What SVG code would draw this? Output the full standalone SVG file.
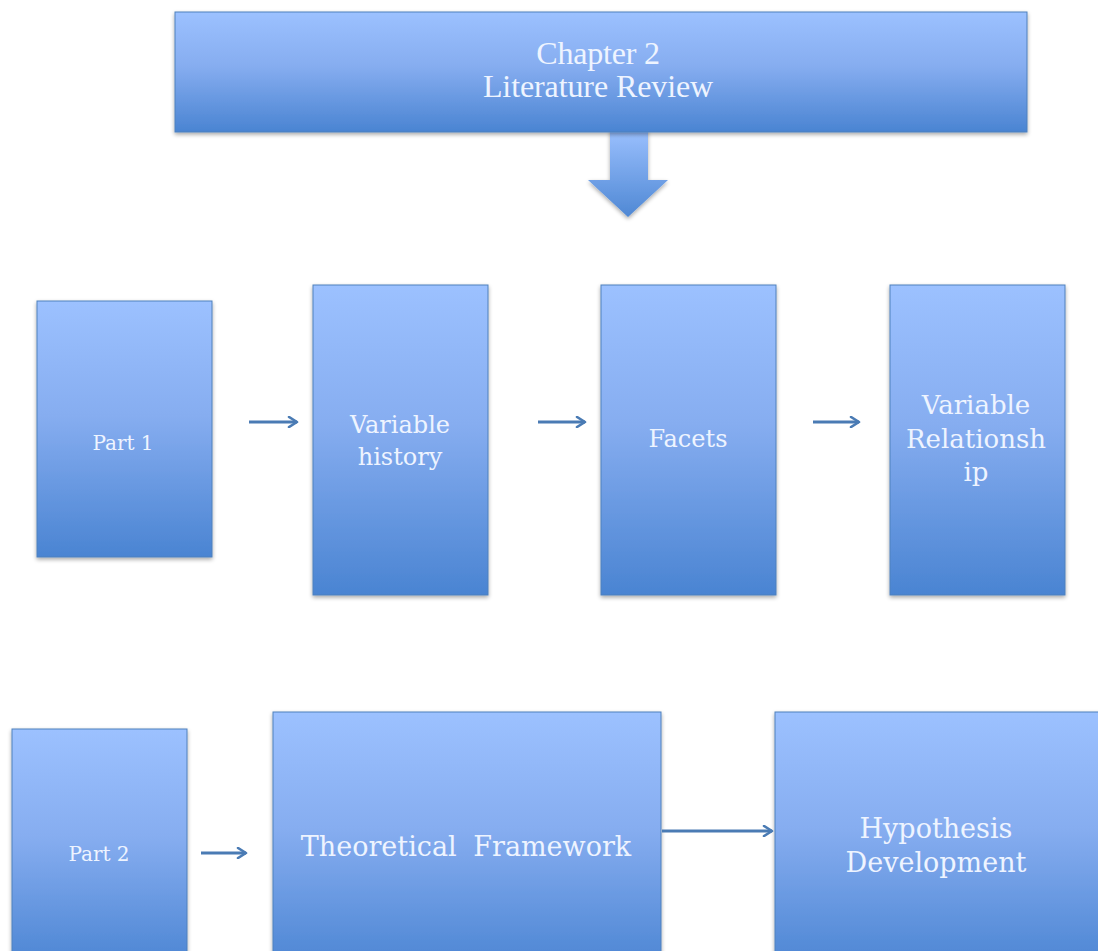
<svg xmlns="http://www.w3.org/2000/svg" width="1098" height="951" viewBox="0 0 1098 951">
  <defs>
    <linearGradient id="boxFill" x1="0" y1="0" x2="0" y2="1">
      <stop offset="0" stop-color="#9cc1ff"/>
      <stop offset="0.45" stop-color="#86adf0"/>
      <stop offset="1" stop-color="#4a84d2"/>
    </linearGradient>
    <linearGradient id="arrowFill" x1="0" y1="0" x2="0" y2="1">
      <stop offset="0" stop-color="#9cc1ff"/>
      <stop offset="1" stop-color="#4f88d4"/>
    </linearGradient>
    <filter id="shadow" x="-10%" y="-10%" width="120%" height="120%">
      <feGaussianBlur in="SourceAlpha" stdDeviation="2"/>
      <feOffset dx="0" dy="2" result="b"/>
      <feComponentTransfer><feFuncA type="linear" slope="0.35"/></feComponentTransfer>
      <feMerge><feMergeNode/><feMergeNode in="SourceGraphic"/></feMerge>
    </filter>
    <marker id="head" viewBox="0 0 12 12" refX="10" refY="6" markerWidth="12" markerHeight="12" markerUnits="userSpaceOnUse" orient="auto">
      <path d="M2,1 L10,6 L2,11" fill="none" stroke="#4a7bb4" stroke-width="2.6" stroke-linecap="round" stroke-linejoin="round"/>
    </marker>
  </defs>
  <style>
    .box { fill: url(#boxFill); stroke: #4f81bd; stroke-width: 1; filter: url(#shadow); }
    .lbl { fill: #eef4ff; font-family: "DejaVu Serif", "Liberation Serif", serif; text-anchor: middle; }
    .title { fill: #eef4ff; font-family: "Liberation Serif", "DejaVu Serif", serif; text-anchor: middle; }
    .link { stroke: #4a7bb4; stroke-width: 3; fill: none; marker-end: url(#head); }
  </style>
  <rect width="1098" height="951" fill="#ffffff"/>

  <!-- block arrow out of the chapter banner -->
  <g id="down-arrow">
    <path d="M610,128 L648,128 L648,180 L668,180 L628,217 L588,180 L610,180 Z" fill="url(#arrowFill)" filter="url(#shadow)"/>
  </g>

  <g id="chapter">
    <rect class="box" x="175" y="12" width="852" height="120"/>
    <text class="title" x="598" y="64" font-size="32" letter-spacing="-0.2">Chapter 2</text>
    <text class="title" x="598" y="97" font-size="32" letter-spacing="-0.1">Literature Review</text>
  </g>

  <g id="part1">
    <rect class="box" x="37" y="301" width="175" height="256"/>
    <text class="lbl" x="123" y="450" font-size="20">Part 1</text>
  </g>
  <g id="variable-history">
    <rect class="box" x="313" y="285" width="175" height="310"/>
    <text class="lbl" x="400" y="433" font-size="24">Variable</text>
    <text class="lbl" x="400" y="465" font-size="24">history</text>
  </g>
  <g id="facets">
    <rect class="box" x="601" y="285" width="175" height="310"/>
    <text class="lbl" x="688" y="447" font-size="24">Facets</text>
  </g>
  <g id="variable-relationship">
    <rect class="box" x="890" y="285" width="175" height="310"/>
    <text class="lbl" x="976" y="414" font-size="26">Variable</text>
    <text class="lbl" x="976" y="448" font-size="26">Relationsh</text>
    <text class="lbl" x="976" y="481" font-size="26">ip</text>
  </g>

  <g id="part2">
    <rect class="box" x="12" y="729" width="175" height="240"/>
    <text class="lbl" x="99" y="861" font-size="20">Part 2</text>
  </g>
  <g id="theoretical-framework">
    <rect class="box" x="273" y="712" width="388" height="260"/>
    <text class="lbl" x="466" y="856" font-size="27" word-spacing="8">Theoretical Framework</text>
  </g>
  <g id="hypothesis-development">
    <rect class="box" x="775" y="712" width="340" height="260"/>
    <text class="lbl" x="936" y="838" font-size="27">Hypothesis</text>
    <text class="lbl" x="936" y="872" font-size="27">Development</text>
  </g>

  <g id="connectors">
    <line class="link" x1="249" y1="422" x2="297" y2="422"/>
    <line class="link" x1="538" y1="422" x2="585" y2="422"/>
    <line class="link" x1="813" y1="422" x2="859" y2="422"/>
    <line class="link" x1="201" y1="853" x2="246" y2="853"/>
    <line class="link" x1="662" y1="831" x2="772" y2="831"/>
  </g>
</svg>
